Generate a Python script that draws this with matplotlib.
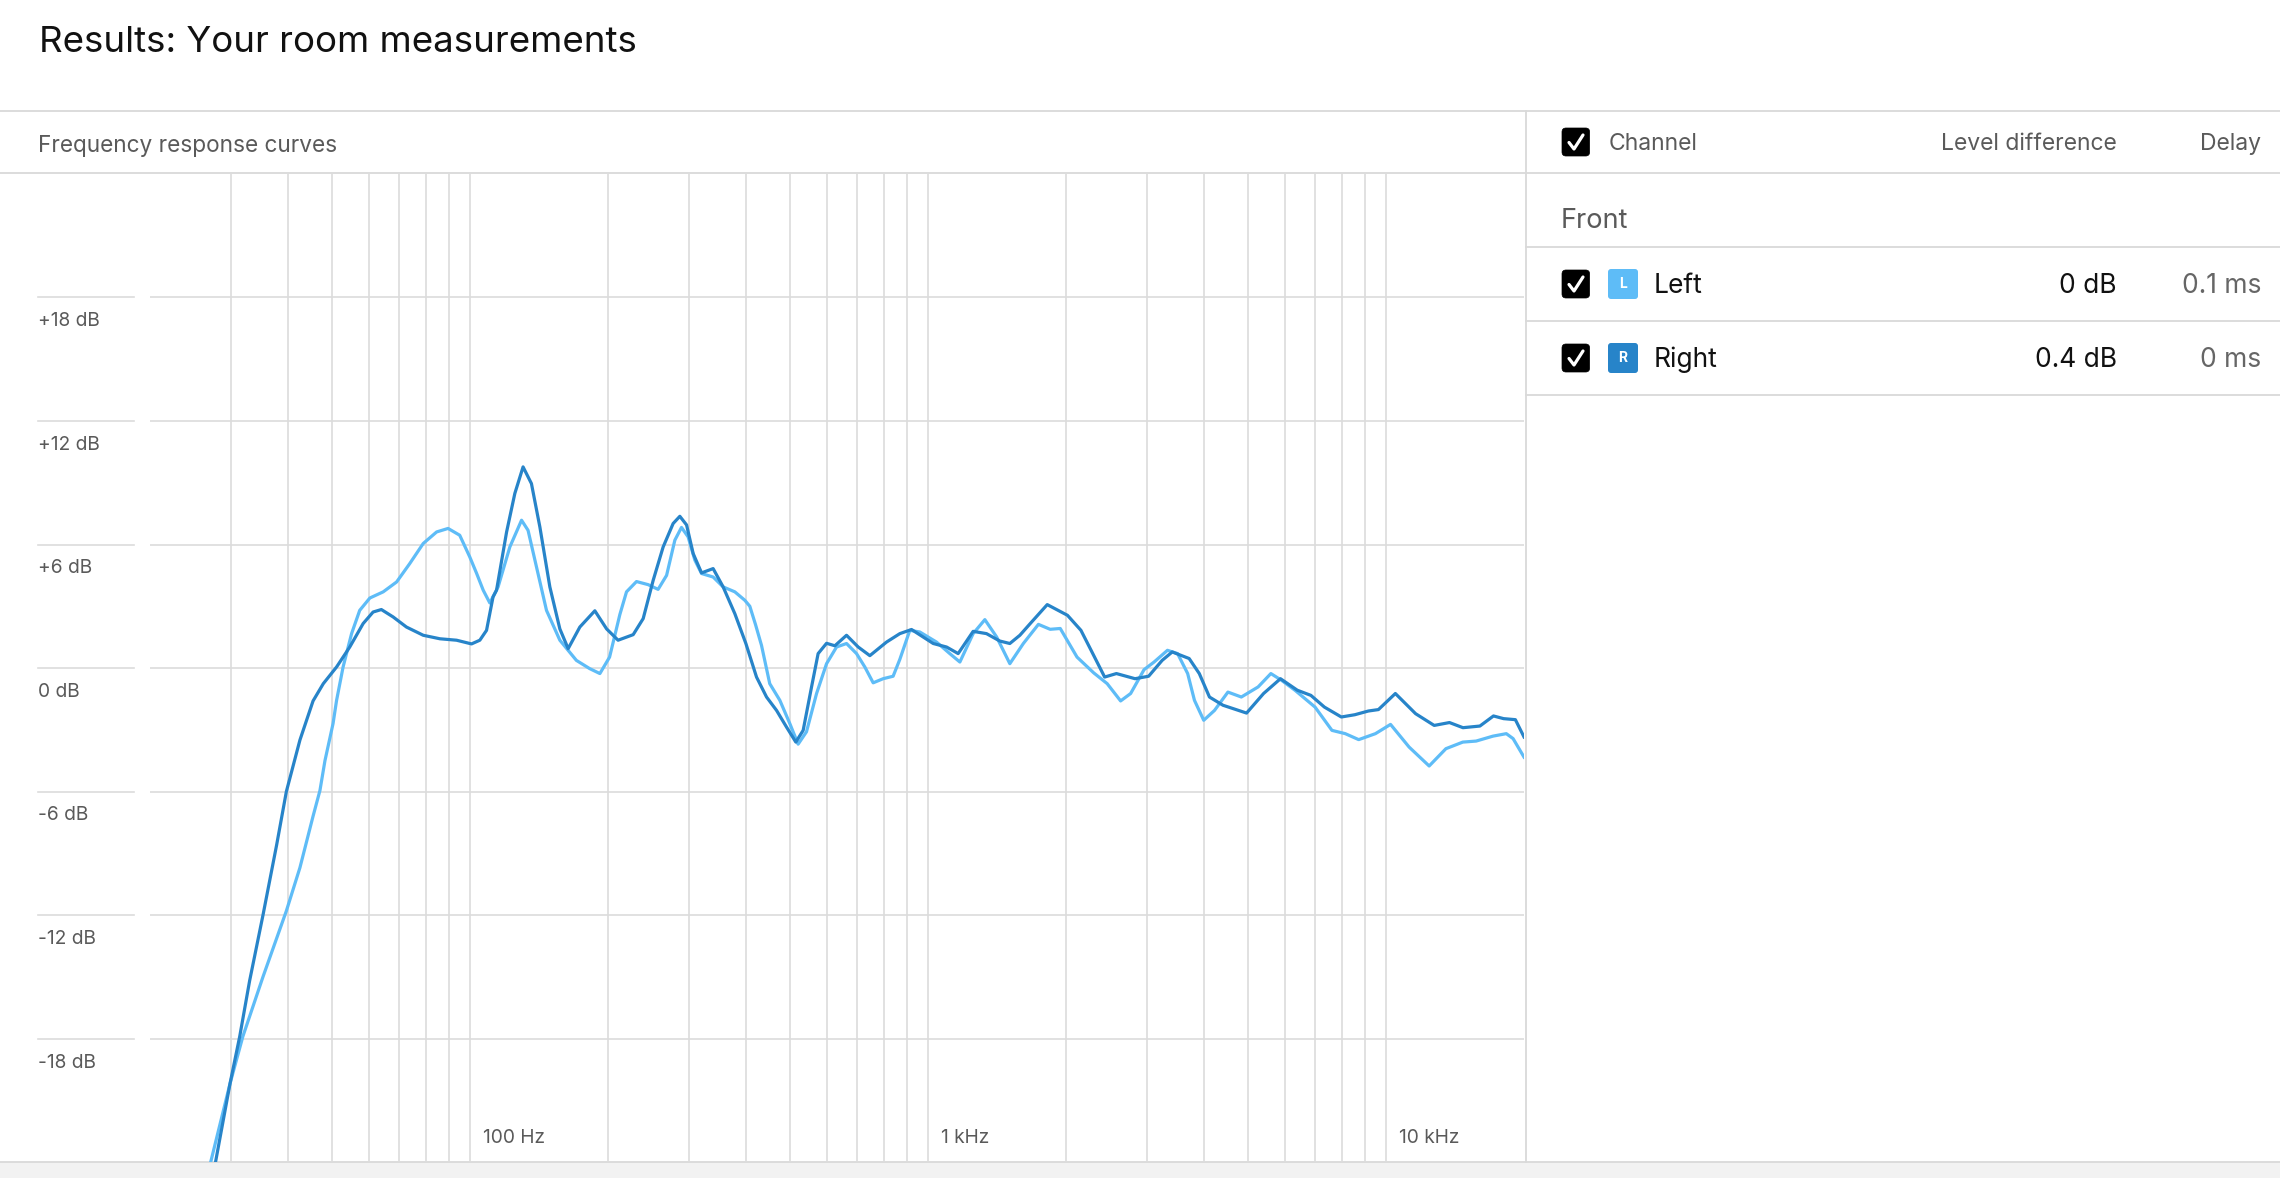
import matplotlib
matplotlib.use('Agg')
import matplotlib.pyplot as plt
from matplotlib.patches import FancyBboxPatch, Rectangle
from matplotlib import transforms as mtrans

# ---------------- data ----------------
right_freq = [27.7, 29.9, 31.4, 33.0, 35.3, 37.8, 39.7, 42.5, 45.4, 47.8, 51.1, 54.6, 58.4, 61.4,
              64.0, 67.9, 72.6, 79.0, 85.9, 93.4, 100.7, 105.0, 108.6, 112.2, 114.2, 120.1, 125.2,
              130.5, 136.1, 142.0, 149.3, 157.0, 163.7, 173.6, 187.2, 198.6, 210.4, 227.0, 238.7,
              251, 263.9, 277.5, 287, 296.9, 306.9, 320.1, 339.3, 356.8, 378.4, 400, 422, 443.8,
              466.7, 490.7, 514.2, 533.5, 556.5, 575.2, 600.1, 625.7, 663.5, 703.6, 746, 811.3,
              867.4, 920, 1026, 1097, 1163, 1254, 1341, 1434, 1508, 1586, 1671, 1820, 2015,
              2156, 2269, 2429, 2577, 2830, 3030, 3243, 3412, 3715, 3909, 4114, 4404, 4958,
              5400, 5879, 6399, 6851, 7333, 7983, 8544, 9144, 9621, 10475, 11598, 12733,
              13749, 14715, 16023, 17155, 18049, 19152, 20000]
right_db = [-24.2, -20.2, -17.9, -15.2, -12.0, -8.6, -6.0, -3.5, -1.6, -0.76, 0.05, 1.02, 2.16, 2.72,
            2.84, 2.48, 1.99, 1.59, 1.42, 1.35, 1.17, 1.35, 1.83, 3.45, 3.78, 6.6, 8.48,
            9.77, 8.96, 6.85, 3.94, 1.90, 0.94, 1.99, 2.78, 1.90, 1.35, 1.62, 2.40,
            4.26, 5.88, 7.02, 7.37, 6.95, 5.56, 4.62, 4.83, 3.94, 2.64, 1.19, -0.44, -1.41,
            -2.06, -2.87, -3.60, -3.03, -0.92, 0.70, 1.20, 1.08, 1.59, 1.02, 0.60, 1.26,
            1.67, 1.87, 1.19, 1.02, 0.70, 1.78, 1.67, 1.31, 1.19, 1.59, 2.16, 3.08, 2.56,
            1.83, 0.86, -0.44, -0.27, -0.52, -0.40, 0.37, 0.78, 0.46, -0.27, -1.41, -1.81, -2.19,
            -1.24, -0.52, -1.08, -1.33, -1.90, -2.38, -2.27, -2.09, -2.02, -1.24, -2.22, -2.79,
            -2.65, -2.90, -2.82, -2.33, -2.46, -2.51, -3.35]

left_freq = [27.0, 29.9, 31.9, 35.3, 39.7, 42.5, 45.4, 47.0, 48.2, 50.2, 51.1, 52.8, 55.1, 57.4,
             60.4, 64.6, 69.1, 73.8, 79.0, 84.5, 89.5, 94.9, 99.8, 103.3, 106.8, 110.4, 115.1,
             122.1, 129.5, 133.8, 139.6, 146.8, 157.0, 170.6, 182.4, 192, 201.6, 212.3, 219.5,
             230.8, 244.7, 257.3, 268.5, 279.9, 289.4, 299.2, 309.5, 320.1, 339.3, 356.8, 378.4,
             397.9, 408, 420, 432.7, 451, 474.5, 498.9, 520.2, 542.5, 570.7, 600.1, 631, 663.5,
             697.7, 727.4, 758.6, 797.6, 838.6, 867.4, 912, 959, 1043,
             1115, 1173, 1254, 1330, 1411, 1508, 1614, 1741, 1847, 1943, 2114, 2300, 2460,
             2632, 2768, 2961, 3114, 3331, 3505, 3687, 3815, 3997, 4220, 4514, 4829, 5254,
             5602, 5912, 6323, 6996, 7615, 8143, 8712, 9477, 10224, 11223, 12415, 13506,
             14702, 15723, 17113, 18298, 18932, 20000]
left_db = [-24.2, -20.2, -17.9, -15.0, -11.8, -9.7, -7.2, -5.95, -4.5, -2.70, -1.57, 0.05, 1.67, 2.80,
           3.40, 3.70, 4.18, 5.07, 6.05, 6.61, 6.78, 6.45, 5.40, 4.60, 3.78, 3.16, 3.94,
           5.88, 7.18, 6.69, 4.91, 2.80, 1.35, 0.37, -0.03, -0.27, 0.53, 2.60, 3.70,
           4.20, 4.05, 3.82, 4.50, 6.21, 6.83, 6.37, 5.24, 4.59, 4.42, 3.94, 3.70,
           3.29, 3.00, 2.10, 1.10, -0.76, -1.57, -2.70, -3.70, -3.10, -1.24, 0.21, 1.02, 1.19,
           0.70, 0.05, -0.72, -0.52, -0.40, 0.42, 1.83, 1.75, 1.26,
           0.70, 0.29, 1.67, 2.35, 1.51, 0.21, 1.19, 2.12, 1.88, 1.92, 0.53, -0.24, -0.76,
           -1.60, -1.24, -0.08, 0.29, 0.86, 0.70, -0.27, -1.57, -2.54, -2.06, -1.17, -1.41, -0.92,
           -0.27, -0.60, -1.08, -1.90, -3.03, -3.19, -3.48, -3.19, -2.74, -3.84, -4.76, -3.92,
           -3.60, -3.55, -3.31, -3.19, -3.43, -4.33]

grid_freqs = [30, 40, 50, 60, 70, 80, 90, 100, 200, 300, 400, 500, 600, 700, 800, 900,
              1000, 2000, 3000, 4000, 5000, 6000, 7000, 8000, 9000, 10000]
db_ticks = [18, 12, 6, 0, -6, -12, -18]
db_labels = ['+18 dB', '+12 dB', '+6 dB', '0 dB', '-6 dB', '-12 dB', '-18 dB']
freq_ticks = [100, 1000, 10000]
freq_labels = ['100 Hz', '1 kHz', '10 kHz']

channels = ['Left', 'Right']
badges = ['L', 'R']
level_diff = ['0 dB', '0.4 dB']
delays = ['0.1 ms', '0 ms']

LIGHT = '#5ebcf7'
DARK = '#2784c9'
GRID = '#dcdcdc'
GRAY = '#5a5a5a'

plt.rcParams['font.family'] = ['Inter', 'DejaVu Sans']

W, H = 2280, 1178
fig = plt.figure(figsize=(W / 100, H / 100), dpi=100)
fig.patch.set_facecolor('white')

# UI overlay in pixel coordinates
ui = fig.add_axes([0, 0, 1, 1], zorder=0)
ui.set_xlim(0, W)
ui.set_ylim(H, 0)
ui.axis('off')

# chart axes
ax = fig.add_axes([150 / W, (H - 1162) / H, (1524 - 150) / W, (1162 - 174) / H], zorder=1)
ax.patch.set_alpha(0)
ax.set_xscale('log')
ax.set_xlim(20, 20000)
ax.set_ylim(-24, 24)
for s in ax.spines.values():
    s.set_visible(False)
ax.tick_params(which='both', length=0, labelbottom=False, labelleft=False)
ax.xaxis.set_minor_locator(matplotlib.ticker.NullLocator())
ax.set_xticks([])
ax.set_yticks([])

for f in grid_freqs:
    ax.axvline(f, color=GRID, lw=1.2, zorder=0)
for v in db_ticks:
    ax.axhline(v, color=GRID, lw=1.2, zorder=0)

blend_y = mtrans.blended_transform_factory(ax.transAxes, ax.transData)
for v, lab in zip(db_ticks, db_labels):
    ax.plot([-0.0815, -0.0116], [v, v], transform=blend_y, clip_on=False, color=GRID, lw=1.2)
    ax.text(-0.0815, v, lab, transform=mtrans.offset_copy(blend_y, fig=fig, y=-24, units='dots'),
            ha='left', va='center', fontsize=13.8, color=GRAY)

blend_x = mtrans.blended_transform_factory(ax.transData, ax.transAxes)
for f, lab in zip(freq_ticks, freq_labels):
    ax.text(f, 0, lab, transform=mtrans.offset_copy(blend_x, fig=fig, x=12.5, y=24, units='dots'),
            ha='left', va='center', fontsize=13.8, color=GRAY)

ax.plot(left_freq, left_db, color=LIGHT, lw=2.3, zorder=3, solid_joinstyle='round')
ax.plot(right_freq, right_db, color=DARK, lw=2.3, zorder=4, solid_joinstyle='round')

# ---------- UI chrome ----------
LINE = '#d9d9d9'
ui.plot([0, W], [110.7, 110.7], color=LINE, lw=1.3)
ui.plot([0, W], [173, 173], color=LINE, lw=1.3)
ui.plot([1526, 1526], [111, 1162], color=LINE, lw=1.3)
for yy in [246.7, 320.7, 395]:
    ui.plot([1526, W], [yy, yy], color=LINE, lw=1.3)
ui.add_patch(Rectangle((0, 1162), W, H - 1162, color='#f2f2f2', zorder=1))
ui.plot([0, W], [1162, 1162], color=LINE, lw=1.3, zorder=2)

ui.text(39, 51.7, 'Results: Your room measurements', fontsize=26.4, va='baseline', ha='left', color='#111111')
ui.text(38.4, 151.7, 'Frequency response curves', fontsize=16.3, va='baseline', ha='left', color=GRAY)

ui.text(1608.5, 150, 'Channel', fontsize=16.5, va='baseline', ha='left', color=GRAY)
ui.text(2117, 150, 'Level difference', fontsize=16.5, va='baseline', ha='right', color=GRAY)
ui.text(2261, 150, 'Delay', fontsize=16.5, va='baseline', ha='right', color=GRAY)
ui.text(1560.7, 227.7, 'Front', fontsize=19.5, va='baseline', ha='left', color=GRAY)


def checkbox(x, y):
    ui.add_patch(FancyBboxPatch((x, y), 27.6, 28, boxstyle='round,pad=0,rounding_size=4',
                                facecolor='black', edgecolor='black', lw=0.5, zorder=3))
    ui.plot([x + 7, x + 12, x + 21], [y + 14.5, y + 21, y + 7], color='white', lw=2.3,
            solid_capstyle='round', solid_joinstyle='round', zorder=4)


checkbox(1562, 128)
row_y = [270, 344]
colors = [LIGHT, DARK]
for i in range(2):
    y0 = row_y[i]
    checkbox(1562, y0)
    ui.add_patch(FancyBboxPatch((1608, y0 - 1), 30, 30, boxstyle='round,pad=0,rounding_size=3',
                                facecolor=colors[i], edgecolor='none', zorder=3))
    ui.text(1623, y0 + 14, badges[i], fontsize=10, fontweight='bold', color='white',
            ha='center', va='center', zorder=4)
    base = y0 + 23.3
    ui.text(1654, base, channels[i], fontsize=19, va='baseline', ha='left', color='#111111')
    ui.text(2117, base, level_diff[i], fontsize=19, va='baseline', ha='right', color='#111111')
    ui.text(2261, base, delays[i], fontsize=19, va='baseline', ha='right', color='#666666')

fig.savefig('out.png', dpi=100, facecolor='white')
